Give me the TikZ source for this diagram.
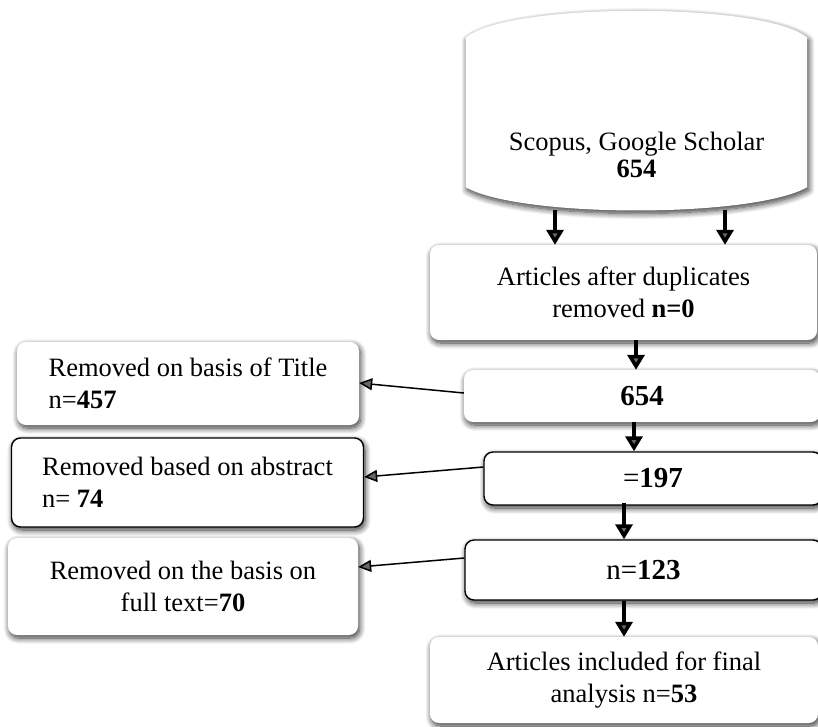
\documentclass[tikz,border=0pt]{standalone}
\usepackage{fontspec}
\setmainfont{Liberation Serif}
\usetikzlibrary{arrows.meta,shadows.blur}
\tikzset{
	softshadow/.style={blur shadow={shadow xshift=1.5pt, shadow yshift=-3pt, shadow blur radius=6pt, shadow blur steps=10, shadow opacity=80}},
	box/.style={rectangle, rounded corners=9pt, fill=white, align=center, inner sep=0pt, softshadow},
	bbox/.style={box, draw=black, line width=1.4pt},
	numtext/.style={font=\fontsize{29}{34}\selectfont},
	bigarr/.style={line width=3.5pt, -{Triangle[length=15pt, width=17pt]}},
	sidearr/.style={line width=1.5pt, -{Triangle[length=13pt, width=12pt]}},
}
\begin{document}
\begin{tikzpicture}[x=1pt, y=-1pt, font=\fontsize{26.5}{31.5}\selectfont, line join=round]
			%%Khung hinh
			\useasboundingbox (0,0) rectangle (818,726);
			\clip (0,0) rectangle (818,726);
			%%Nguon du lieu
			\node[minimum width=341pt, minimum height=200pt, inner sep=0pt] (src) at (636.5,110) {};
			\path[fill=white, softshadow]
			([yshift=23pt]src.south west) -- ([yshift=-28pt]src.north west)
			.. controls ([xshift=40pt,yshift=8pt]src.north west) and ([xshift=-40pt,yshift=8pt]src.north east) .. ([yshift=-28pt]src.north east)
			-- ([yshift=23pt]src.south east)
			.. controls ([xshift=-54pt,yshift=-8pt]src.south east) and ([xshift=54pt,yshift=-8pt]src.south west) .. cycle;
			\node[align=center] (srctxt) at ([yshift=-45pt]src.center) {Scopus, Google Scholar\\[-4pt]\textbf{654}};
			%%Cot phai
			\node[box, minimum width=387pt, minimum height=95pt] (dup) at (623.5,292.5) {Articles after duplicates\\removed \textbf{n=0}};
			\node[box, numtext, minimum width=356pt, minimum height=52pt] (n654) at (642,396) {\textbf{654}};
			\node[bbox, numtext, minimum width=338pt, minimum height=53pt] (s197) at (653,478.5) {=\textbf{197}};
			\node[bbox, numtext, minimum width=357pt, minimum height=60pt] (s123) at (643.5,570) {n=\textbf{123}};
			\node[box, minimum width=388pt, minimum height=86pt] (final) at (624,680) {Articles included for final\\analysis n=\textbf{53}};
			%%Cot trai
			\node[box, align=left, minimum width=342pt, minimum height=83pt] (title) at (188,383.5) {Removed on basis of Title\\n=\textbf{457}};
			\node[bbox, align=left, minimum width=352pt, minimum height=89pt] (abstract) at (187.5,482.5) {Removed based on abstract\\n= \textbf{74}};
			\node[box, minimum width=350pt, minimum height=97pt] (ftext) at (183,586.5) {Removed on the basis on\\full text=\textbf{70}};
			%%Mui ten doc
			\draw[bigarr] ([xshift=-81.5pt]src.south) -- ([xshift=-81.5pt]src.south |- dup.north);
			\draw[bigarr] ([xshift=88.5pt]src.south) -- ([xshift=88.5pt]src.south |- dup.north);
			\draw[bigarr] ([xshift=12.5pt]dup.south) -- ([xshift=12.5pt]dup.south |- n654.north);
			\draw[bigarr] ([xshift=-8pt]n654.south) -- ([xshift=-8pt]n654.south |- s197.north);
			\draw[bigarr] ([xshift=-29pt,yshift=3pt]s197.south) -- ([xshift=-29pt]s197.south |- s123.north);
			\draw[bigarr] ([xshift=-19.5pt]s123.south) -- ([xshift=-19.5pt]s123.south |- final.north);
			%%Mui ten ngang
			\draw[sidearr] ([yshift=3pt]n654.west) -- ([yshift=0.5pt]title.east);
			\draw[sidearr] ([yshift=11.5pt]s197.west) -- ([yshift=5.5pt]abstract.east);
			\draw[sidearr] ([yshift=12pt]s123.west) -- ([yshift=19.5pt]ftext.east);
		\end{tikzpicture}
\end{document}
